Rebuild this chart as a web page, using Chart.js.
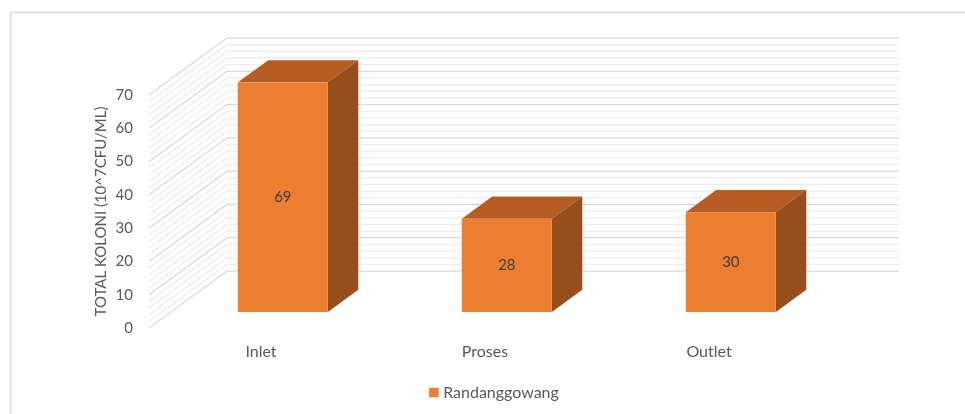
<!DOCTYPE html>
<html>
<head>
<meta charset="utf-8">
<script src="https://cdn.jsdelivr.net/npm/chart.js@4"></script>
<style>
  html, body { margin: 0; padding: 0; background: #fff; }
  #wrap { width: 965px; height: 414px; }
</style>
</head>
<body>
<div id="wrap"><canvas id="c" width="965" height="414"></canvas></div>
<script>
// Colony counts per sampling point
const categories = ['Inlet', 'Proses', 'Outlet'];
const seriesName = 'Randanggowang';
const colonyValues = [69, 28, 30];
const yMin = 0;
const yMax = 70;
const yStep = 10;
const yMinorStep = 2;
const yTitle = 'TOTAL KOLONI (10^7CFU/ML)';

// Look of the pseudo-3D box
const DEPTH_DX = 78;        // horizontal shift from front plane to back wall
const DEPTH_DY = 57;        // vertical shift from front plane to back wall
const BAR_FRONT = 0.28;     // depth of the bar front face (0 = front, 1 = back wall)
const BAR_DEPTH = 0.39;     // thickness of a bar in depth units
const COLOR_FRONT = '#ED7D31';
const COLOR_TOP = '#B55D22';
const COLOR_SIDE = '#984E1C';
const GRID_MAJOR = '#D9D9D9';
const GRID_MINOR = '#EDEDED';
const FONT = 'Lato, "Open Sans", sans-serif';

function poly(ctx, pts, fill) {
  ctx.beginPath();
  ctx.moveTo(pts[0][0], pts[0][1]);
  for (let k = 1; k < pts.length; k++) ctx.lineTo(pts[k][0], pts[k][1]);
  ctx.closePath();
  ctx.fillStyle = fill;
  ctx.fill();
}

const box3d = {
  id: 'box3d',
  beforeDraw(chart) {
    const ctx = chart.ctx;
    ctx.save();
    ctx.fillStyle = '#ffffff';
    ctx.fillRect(0, 0, chart.width, chart.height);
    ctx.strokeStyle = '#D9D9D9';
    ctx.lineWidth = 1.5;
    ctx.strokeRect(10.5, 12.5, chart.width + 20, chart.height + 20);
    ctx.restore();
  },
  beforeDatasetsDraw(chart) {
    const { ctx, chartArea: a, scales: { x, y } } = chart;
    ctx.save();
    // side wall and back wall gridlines
    for (let v = yMin; v <= yMax; v += yMinorStep) {
      const yy = y.getPixelForValue(v);
      ctx.strokeStyle = (v % yStep === 0) ? GRID_MAJOR : GRID_MINOR;
      ctx.lineWidth = 1.25;
      ctx.beginPath();
      ctx.moveTo(a.left, yy);
      ctx.lineTo(a.left + DEPTH_DX, yy - DEPTH_DY);
      ctx.lineTo(a.right + DEPTH_DX, yy - DEPTH_DY);
      ctx.stroke();
    }
    // bars as boxes
    const ds = chart.data.datasets[0];
    const meta = chart.getDatasetMeta(0);
    const fx = BAR_FRONT * DEPTH_DX, fy = BAR_FRONT * DEPTH_DY;
    const ddx = BAR_DEPTH * DEPTH_DX, ddy = BAR_DEPTH * DEPTH_DY;
    meta.data.forEach((bar, i) => {
      const v = ds.data[i];
      const half = bar.width / 2;
      const x0 = bar.x - half + fx;
      const x1 = bar.x + half + fx;
      const yTop = y.getPixelForValue(v) - fy;
      const yBot = y.getPixelForValue(yMin) - fy;
      poly(ctx, [[x0, yTop], [x0 + ddx, yTop - ddy], [x1 + ddx, yTop - ddy], [x1, yTop]], COLOR_TOP);
      poly(ctx, [[x1, yTop], [x1 + ddx, yTop - ddy], [x1 + ddx, yBot - ddy], [x1, yBot]], COLOR_SIDE);
      ctx.fillStyle = COLOR_FRONT;
      ctx.fillRect(x0, yTop, x1 - x0, yBot - yTop);
      // value label in the middle of the front face
      ctx.fillStyle = '#404040';
      ctx.font = '15px ' + FONT;
      ctx.textAlign = 'center';
      ctx.textBaseline = 'middle';
      ctx.fillText(String(v), (x0 + x1) / 2, (yTop + yBot) / 2);
    });
    ctx.restore();
    return false;
  },
  afterDraw(chart) {
    // series key under the plot
    const ctx = chart.ctx;
    const ds = chart.data.datasets[0];
    ctx.save();
    ctx.font = '16px ' + FONT;
    const tw = ctx.measureText(ds.label).width;
    const boxW = 9.5, gap = 4.5;
    const total = boxW + gap + tw;
    const cx = 494;
    const cy = 392.5;
    const left = cx - total / 2;
    ctx.fillStyle = ds.backgroundColor;
    ctx.fillRect(left, cy - boxW / 2, boxW, boxW);
    ctx.fillStyle = '#595959';
    ctx.textAlign = 'left';
    ctx.textBaseline = 'middle';
    ctx.fillText(ds.label, left + boxW + gap, cy);
    ctx.restore();
  }
};

new Chart(document.getElementById('c'), {
  type: 'bar',
  data: {
    labels: categories,
    datasets: [{
      label: seriesName,
      data: colonyValues,
      backgroundColor: COLOR_FRONT,
      categoryPercentage: 1,
      barPercentage: 90 / 224
    }]
  },
  options: {
    responsive: false,
    animation: false,
    devicePixelRatio: 1,
    layout: { padding: { left: 92, right: 144, top: 95, bottom: 40 } },
    plugins: {
      legend: { display: false },
      tooltip: { enabled: false }
    },
    scales: {
      x: {
        grid: { display: false, drawTicks: false },
        border: { display: false },
        ticks: { color: '#595959', font: { family: FONT, size: 16 }, padding: 14 },
        afterFit(scale) { scale.height = 46; }
      },
      y: {
        min: yMin,
        max: yMax,
        grid: { display: false, drawTicks: false },
        border: { display: false },
        ticks: { stepSize: yStep, color: '#595959', font: { family: FONT, size: 15 }, padding: 16 },
        title: {
          display: true,
          text: yTitle,
          color: '#595959',
          font: { family: FONT, size: 15 },
          padding: 0
        },
        afterFit(scale) { scale.width = 57; }
      }
    }
  },
  plugins: [box3d]
});
</script>
</body>
</html>
